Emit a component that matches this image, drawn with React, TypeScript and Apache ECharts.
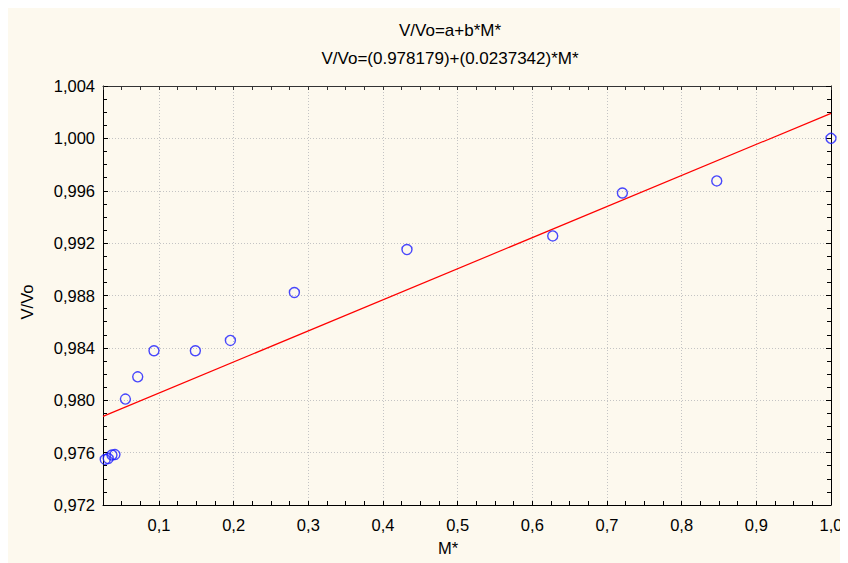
import React, { useEffect, useRef } from "react";
import * as echarts from "echarts";

// Observed data (M*, V/Vo)
const mStar = [0.028, 0.032, 0.037, 0.041, 0.055, 0.0715, 0.0933, 0.1487, 0.1956, 0.2813, 0.4321, 0.6273, 0.7206, 0.847, 1.0];
const vRatio = [0.97548, 0.97555, 0.97582, 0.97585, 0.98009, 0.98179, 0.98378, 0.98378, 0.98457, 0.98823, 0.99151, 0.99255, 0.99583, 0.99675, 1.0];

// Linear fit V/Vo = a + b*M*
const fitA = 0.978179;
const fitB = 0.0237342;
const fitX = [0.025, 1.0];

const titleLines = ["V/Vo=a+b*M*", "V/Vo=(0.978179)+(0.0237342)*M*"];
const xName = "M*";
const yName = "V/Vo";

const xMin = 0.025;
const xMax = 1.0;
const yMin = 0.972;
const yMax = 1.004;

const FONT = "'Liberation Sans', Arial, Helvetica, sans-serif";
const BG = "#fdf9ee";

export default function App() {
  const ref = useRef<HTMLDivElement>(null);
  useEffect(() => {
    if (!ref.current) return;
    const chart = echarts.init(ref.current, undefined, { renderer: "svg" });
    const scatterData = mStar.map((m, i) => [m, vRatio[i]]);
    const lineData = fitX.map((x) => [x, fitA + fitB * x]);
    const grid = { left: 95, top: 78, width: 728, height: 419 };
    const dotted = { color: "#c4c4c4", width: 1, type: [1, 2] as any };
    chart.setOption({
      animation: false,
      backgroundColor: BG,
      textStyle: { fontFamily: FONT },
      grid,
      graphic: [
        { type: "text", x: 442, y: 22, style: { text: titleLines[0], font: `17px ${FONT}`, fill: "#000", align: "center", verticalAlign: "middle" } },
        { type: "text", x: 442, y: 50, style: { text: titleLines[1], font: `17px ${FONT}`, fill: "#000", align: "center", verticalAlign: "middle" } },
        { type: "text", x: 440, y: 540, style: { text: xName, font: `16.5px ${FONT}`, fill: "#000", align: "center", verticalAlign: "middle" } },
        { type: "text", x: 19, y: 294, rotation: Math.PI / 2, style: { text: yName, font: `16.5px ${FONT}`, fill: "#000", align: "center", verticalAlign: "middle" } },
      ],
      xAxis: [
        {
          type: "value", position: "bottom", min: xMin, max: xMax, splitNumber: 10, minInterval: 0.1, maxInterval: 0.1,
          axisLine: { show: true, onZero: false, lineStyle: { color: "#000", width: 1 } },
          axisTick: { show: false },
          axisLabel: {
            fontSize: 16.5, color: "#000", fontFamily: FONT, margin: 11,
            formatter: (v: number) => (Math.abs(v - xMin) < 1e-6 ? "" : v.toFixed(1).replace(".", ",")),
          },
          splitLine: { show: true, lineStyle: dotted },
        },
        {
          type: "value", position: "bottom", min: xMin, max: xMax, interval: 0.025,
          axisLine: { show: false, onZero: false },
          axisTick: { show: true, inside: true, length: 4, lineStyle: { color: "#000" } },
          axisLabel: { show: false }, splitLine: { show: false },
        },
        {
          type: "value", position: "top", min: xMin, max: xMax, interval: 0.025,
          axisLine: { show: true, onZero: false, lineStyle: { color: "#333", width: 1 } },
          axisTick: { show: true, inside: true, length: 4, lineStyle: { color: "#333" } },
          axisLabel: { show: false }, splitLine: { show: false },
        },
      ],
      yAxis: [
        {
          type: "value", position: "left", min: yMin, max: yMax, interval: 0.004,
          axisLine: { show: true, onZero: false, lineStyle: { color: "#000", width: 1 } },
          axisTick: { show: true, inside: true, length: 5, lineStyle: { color: "#000" } },
          minorTick: { show: true, splitNumber: 4, length: 4, lineStyle: { color: "#000" } },
          axisLabel: {
            fontSize: 16.5, color: "#000", fontFamily: FONT, margin: 8,
            formatter: (v: number) => v.toFixed(3).replace(".", ","),
          },
          splitLine: { show: true, lineStyle: dotted },
        },
        {
          type: "value", position: "right", min: yMin, max: yMax, interval: 0.004,
          axisLine: { show: true, onZero: false, lineStyle: { color: "#000", width: 1 } },
          axisTick: { show: true, inside: true, length: 5, lineStyle: { color: "#000" } },
          minorTick: { show: true, splitNumber: 4, length: 4, lineStyle: { color: "#000" } },
          axisLabel: { show: false }, splitLine: { show: false },
        },
      ],
      series: [
        {
          type: "line", xAxisIndex: 0, yAxisIndex: 0, data: lineData, showSymbol: false, symbol: "none",
          lineStyle: { color: "#ff0000", width: 1.2 }, clip: true, z: 2,
        },
        {
          type: "scatter", xAxisIndex: 0, yAxisIndex: 0, data: scatterData, symbol: "circle", symbolSize: 10,
          itemStyle: { color: "rgba(0,0,0,0)", borderColor: "#1a1aff", borderWidth: 1.4 }, clip: true, z: 3,
        },
      ],
    });
    return () => chart.dispose();
  }, []);
  return <div ref={ref} style={{ width: 840, height: 555, background: BG }} />;
}
